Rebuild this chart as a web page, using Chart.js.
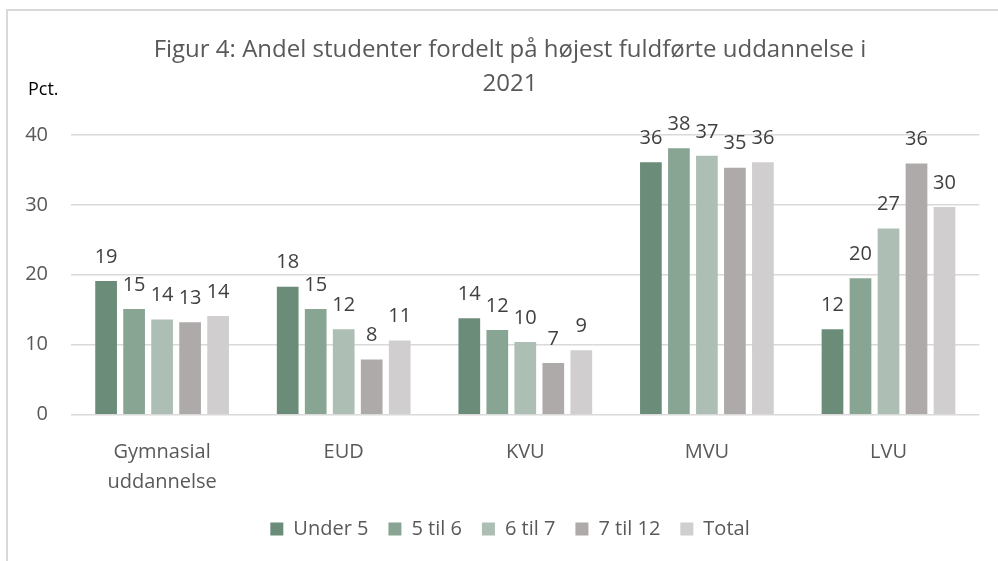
<!DOCTYPE html>
<html lang="da">
<head>
    <meta charset="UTF-8">
    <title>Figur 4</title>
    <script src="https://cdn.jsdelivr.net/npm/chart.js"></script>
    <style>
        body { margin: 0; background: #fff; }
    </style>
</head>
<body>
    <canvas id="chart" width="998" height="561"></canvas>

    <script>
        // Data
        const categories = [['Gymnasial', 'uddannelse'], 'EUD', 'KVU', 'MVU', 'LVU'];
        const seriesNames = ['Under 5', '5 til 6', '6 til 7', '7 til 12', 'Total'];
        const under5 = [19.1, 18.3, 13.8, 36.1, 12.2];
        const fra5til6 = [15.1, 15.1, 12.1, 38.1, 19.5];
        const fra6til7 = [13.6, 12.2, 10.4, 37.0, 26.6];
        const fra7til12 = [13.2, 7.9, 7.4, 35.3, 35.9];
        const total = [14.1, 10.6, 9.2, 36.1, 29.7];
        const yTicks = [0, 10, 20, 30, 40];

        const colors = ['#6A8C78', '#88A594', '#ADBFB4', '#AEAAA9', '#D0CECF'];
        const values = [under5, fra5til6, fra6til7, fra7til12, total];

        Chart.defaults.font.family = "'Open Sans', sans-serif";
        Chart.defaults.color = '#595959';

        // ramme øverst og til venstre
        const framePlugin = {
            id: 'frame',
            beforeDraw(chart) {
                const ctx = chart.ctx;
                ctx.save();
                ctx.strokeStyle = '#D9D9D9';
                ctx.lineWidth = 2;
                ctx.beginPath();
                ctx.moveTo(7, 561);
                ctx.lineTo(7, 10);
                ctx.lineTo(998, 10);
                ctx.stroke();
                ctx.restore();
            }
        };

        // "Pct." over y-aksen
        const unitPlugin = {
            id: 'unit',
            afterDraw(chart) {
                const ctx = chart.ctx;
                ctx.save();
                ctx.font = "18px 'Open Sans', sans-serif";
                ctx.fillStyle = '#000000';
                ctx.textAlign = 'left';
                ctx.textBaseline = 'alphabetic';
                ctx.fillText('Pct.', 28, 95);
                ctx.restore();
            }
        };

        // værdier over søjlerne
        const labelPlugin = {
            id: 'barLabels',
            afterDatasetsDraw(chart) {
                const ctx = chart.ctx;
                ctx.save();
                ctx.font = "20px 'Open Sans', sans-serif";
                ctx.fillStyle = '#404040';
                ctx.textAlign = 'center';
                ctx.textBaseline = 'middle';
                chart.data.datasets.forEach((ds, i) => {
                    chart.getDatasetMeta(i).data.forEach((bar, j) => {
                        ctx.fillText(Math.round(ds.data[j]), bar.x, bar.y - 24);
                    });
                });
                ctx.restore();
            }
        };

        new Chart(document.getElementById('chart'), {
            type: 'bar',
            data: {
                labels: categories,
                datasets: seriesNames.map((name, i) => ({
                    label: name,
                    data: values[i],
                    backgroundColor: colors[i],
                    borderWidth: 0,
                    categoryPercentage: 0.771,
                    barPercentage: 0.775
                }))
            },
            options: {
                responsive: false,
                devicePixelRatio: 1,
                animation: false,
                layout: { padding: { top: 10, left: 40.7, right: 18.7, bottom: 12 } },
                plugins: {
                    title: {
                        display: true,
                        text: ['Figur 4: Andel studenter fordelt på højest fuldførte uddannelse i', '2021'],
                        color: '#595959',
                        font: { size: 24, weight: 'normal', lineHeight: 1.42 },
                        padding: { top: 23.5, bottom: 33.2 }
                    },
                    legend: {
                        position: 'bottom',
                        labels: {
                            boxWidth: 13,
                            boxHeight: 13,
                            padding: 20,
                            color: '#595959',
                            font: { size: 20 }
                        }
                    },
                    tooltip: { enabled: false }
                },
                scales: {
                    x: {
                        grid: { display: false },
                        border: { display: false },
                        ticks: {
                            color: '#595959',
                            font: { size: 20, lineHeight: 1.5 },
                            padding: 15,
                            maxRotation: 0
                        },
                        afterFit(scale) { scale.height = 84.3; }
                    },
                    y: {
                        min: 0,
                        max: 40,
                        afterBuildTicks(scale) {
                            scale.ticks = yTicks.map(v => ({ value: v }));
                        },
                        grid: { color: '#D9D9D9', lineWidth: 1.5, drawTicks: false },
                        border: { display: false },
                        ticks: {
                            color: '#595959',
                            font: { size: 20 },
                            padding: 23.3
                        },
                        afterFit(scale) {
                            scale.width = 30.6;
                            // tallene må gerne stå uden for aksens smalle boks
                            scale._computeLabelArea = () => undefined;
                        }
                    }
                }
            },
            plugins: [framePlugin, unitPlugin, labelPlugin]
        });
    </script>
</body>
</html>
